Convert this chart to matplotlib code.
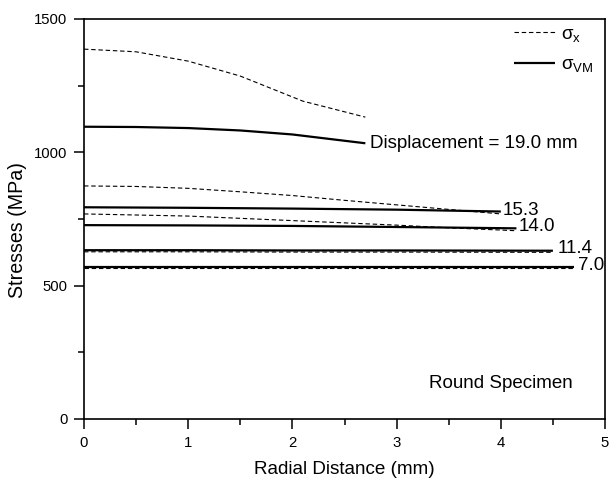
import matplotlib
matplotlib.use("Agg")
import matplotlib.pyplot as plt
from matplotlib.lines import Line2D

plt.rcParams['font.family'] = ['Liberation Sans', 'DejaVu Sans']
plt.rcParams['mathtext.fontset'] = 'custom'
plt.rcParams['mathtext.rm'] = 'Liberation Sans'
plt.rcParams['mathtext.it'] = 'Liberation Sans'
plt.rcParams['mathtext.bf'] = 'Liberation Sans:bold'

# ---- data (Displacement cases) ----
disp_labels = ["Displacement = 19.0 mm", "15.3", "14.0", "11.4", "7.0"]

x_19 = [0, 0.5, 1.0, 1.5, 2.1, 2.7]
sx_19 = [1387, 1377, 1342, 1286, 1192, 1132]
xv_19 = [0, 0.5, 1.0, 1.5, 2.0, 2.7]
svm_19 = [1096, 1095, 1091, 1082, 1067, 1034]

x_153 = [0, 0.5, 1.0, 1.5, 2.0, 2.5, 3.0, 3.5, 4.0]
sx_153 = [874, 872, 865, 852, 838, 820, 803, 786, 769]
xv_153 = [0, 1, 2, 3, 4.0]
svm_153 = [794, 792, 789, 785, 778]

x_140 = [0, 1, 2, 3, 3.5, 4.15]
sx_140 = [769, 761, 744, 727, 717, 706]
xv_140 = [0, 1, 2, 3, 4.15]
svm_140 = [727, 726, 724, 720, 715]

x_114 = [0, 1, 2, 3, 4.5]
sx_114 = [627, 627, 626, 626, 625]
svm_114 = [633, 633, 632, 632, 631]

x_70 = [0, 1, 2, 3, 4, 4.7]
sx_70 = [565, 565, 565, 565, 565, 565]
svm_70 = [570, 570, 570, 570, 570, 570]

# label anchor (x, baseline y)
label_x = [2.74, 4.02, 4.17, 4.55, 4.74]
label_y = [1016, 765, 706, 621, 558]

fig = plt.figure(figsize=(6.12, 4.82), dpi=100)
ax = fig.add_axes([84/612, 1-419/482, (605-84)/612, (419-19)/482])

dash_kw = dict(color='black', lw=0.8, dashes=(4, 2.5))
solid_kw = dict(color='black', lw=1.6, solid_capstyle='butt')

ax.plot(x_19, sx_19, **dash_kw)
ax.plot(xv_19, svm_19, **solid_kw)
ax.plot(x_153, sx_153, **dash_kw)
ax.plot(xv_153, svm_153, **solid_kw)
ax.plot(x_140, sx_140, **dash_kw)
ax.plot(xv_140, svm_140, **solid_kw)
ax.plot(x_114, sx_114, **dash_kw)
ax.plot(x_114, svm_114, **solid_kw)
ax.plot(x_70, sx_70, **dash_kw)
ax.plot(x_70, svm_70, **solid_kw)

for lab, lx, ly in zip(disp_labels, label_x, label_y):
    ax.text(lx, ly, lab, fontsize=13.5, ha='left', va='baseline')

ax.text(3.31, 117, "Round Specimen", fontsize=13.5, ha='left', va='baseline')

handles = [Line2D([], [], **dash_kw), Line2D([], [], **solid_kw)]
ax.legend(handles, [r'$\sigma_{\mathrm{x}}$', r'$\sigma_{\mathrm{VM}}$'],
          loc='upper right', bbox_to_anchor=(0.982, 0.99), frameon=False,
          fontsize=13.5, handlelength=2.2, handletextpad=0.3,
          labelspacing=0.65, borderaxespad=0.0, borderpad=0.15)

ax.set_xlim(0, 5)
ax.set_ylim(0, 1500)
ax.set_xticks([0, 1, 2, 3, 4, 5])
ax.set_yticks([0, 500, 1000, 1500])
ax.set_xticks([0.5, 1.5, 2.5, 3.5, 4.5], minor=True)
ax.set_yticks([250, 750, 1250], minor=True)
ax.tick_params(which='major', direction='out', length=7, width=1.1,
               labelsize=10.7, pad=5, top=False, right=False)
ax.tick_params(which='minor', direction='out', length=4, width=1.1,
               top=False, right=False)
for s in ax.spines.values():
    s.set_linewidth(1.2)

ax.set_xlabel("Radial Distance (mm)", fontsize=13.6, labelpad=8)
ax.set_ylabel("Stresses (MPa)", fontsize=14.1)
ax.yaxis.set_label_coords(-0.110, 0.4725)

fig.savefig("out.png", dpi=100)
